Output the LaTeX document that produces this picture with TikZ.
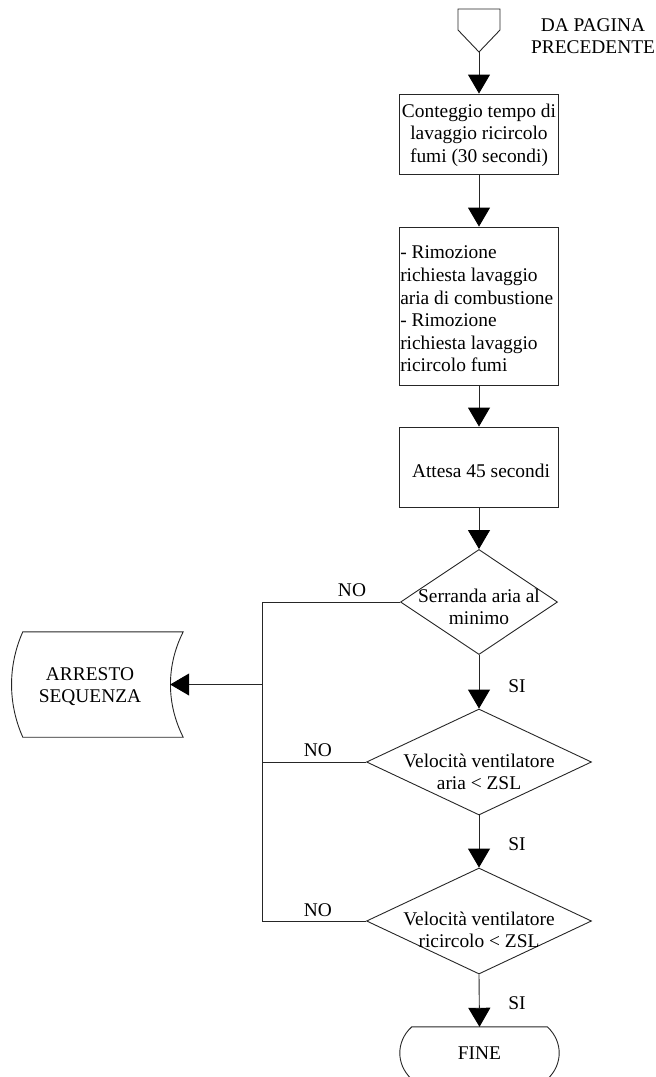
\documentclass[tikz,border=0pt]{standalone}
\usepackage{fontspec}
\setmainfont{Liberation Serif}
\usetikzlibrary{arrows.meta,shapes.geometric,calc}
\begin{document}
\begin{tikzpicture}[x=1pt,y=-1pt,
  ln/.style={line width=0.9pt, draw=black!85},
  arr/.style={ln, -{Triangle[width=22pt,length=19pt,fill=black,color=black]}},
  proc/.style={ln, rectangle, minimum width=159pt, inner sep=0pt},
  dec/.style={ln, diamond, inner sep=0pt},
  shell/.style={rectangle, draw=none, inner sep=0pt},
  txt/.style={font=\fontsize{19.4}{22.6}\selectfont, inner sep=0pt},
  lbl/.style={font=\fontsize{19.4}{22.6}\selectfont, inner sep=0pt}]
\useasboundingbox (0,0) rectangle (656,1077);

% off-page connector
\draw[ln] (458,9) -- (500,9) -- (500,30) -- (479,52) -- (458,30) -- cycle;
\coordinate (prev) at (479,52);
\node[txt, align=center] (prevt) at (593,36) {DA PAGINA\\PRECEDENTE};

% process boxes
\node[proc, minimum height=80pt] (b1) at (479,134) {};
\node[txt, align=center] (b1t) at ($(b1)+(0,1)$) {Conteggio tempo di\\lavaggio ricircolo\\fumi (30 secondi)};

\node[proc, minimum height=158pt] (b2) at (479,306) {};
\node[txt, align=left, anchor=west] (b2t) at ($(b2.west)+(1,3)$) {- Rimozione\\richiesta lavaggio\\aria di combustione\\- Rimozione\\richiesta lavaggio\\ricircolo fumi};

\node[proc, minimum height=80pt] (b3) at (479,467) {};
\node[txt] (b3t) at ($(b3)+(2,4)$) {Attesa 45 secondi};

% decisions
\node[dec, minimum width=157pt, minimum height=105pt] (d1) at (479,602) {};
\node[txt, align=center] (d1t) at ($(d1)+(0,5)$) {Serranda aria al\\minimo};

\node[dec, minimum width=225pt, minimum height=106pt] (d2) at (479,762) {};
\node[txt, align=center] (d2t) at ($(d2)+(0,10)$) {Velocità ventilatore\\aria < ZSL};

\node[dec, minimum width=225pt, minimum height=106pt] (d3) at (479,921) {};
\node[txt, align=center] (d3t) at ($(d3)+(0,9)$) {Velocità ventilatore\\ricircolo < ZSL};

% sequence stop
\node[shell, minimum width=158pt, minimum height=105pt] (stop) at (91,684.5) {};
\draw[ln] ($(stop.north west)+(11,0)$) -- ($(stop.north east)+(13,0)$)
  .. controls ($(stop.east)+(-4,-19)$) and ($(stop.east)+(-4,19)$) .. ($(stop.south east)+(13,0)$)
  -- ($(stop.south west)+(11,0)$)
  .. controls ($(stop.west)+(-4,19)$) and ($(stop.west)+(-4,-19)$) .. cycle;
\node[txt, align=center] (stopt) at ($(stop)+(-1,2)$) {ARRESTO\\SEQUENZA};

% end terminator
\node[shell, minimum width=159pt, minimum height=52pt] (fine) at (479.5,1053) {};
\draw[ln] ($(fine.north west)+(12,0)$) -- ($(fine.north east)+(-12,0)$)
  .. controls ($(fine.north east)+(-3,8)$) and ($(fine.east)+(0,-8)$) .. (fine.east)
  .. controls ($(fine.east)+(0,8)$) and ($(fine.south east)+(-3,-8)$) .. ($(fine.south east)+(-12,0)$)
  -- ($(fine.south west)+(12,0)$)
  .. controls ($(fine.south west)+(3,-8)$) and ($(fine.west)+(0,8)$) .. (fine.west)
  .. controls ($(fine.west)+(0,-8)$) and ($(fine.north west)+(3,8)$) .. cycle;
\node[txt] (finet) at (fine) {FINE};

% main flow
\draw[arr] (prev) -- (b1.north);
\draw[arr] (b1.south) -- (b2.north);
\draw[arr] (b2.south) -- (b3.north);
\draw[arr] (b3.south) -- (d1.north);
\draw[arr] (d1.south) -- (d2.north);
\draw[arr] (d2.south) -- (d3.north);
\draw[arr] (d3.south) -- (fine.north);

% NO branches to the stop
\coordinate (bus) at (262,0);
\draw[ln] (d1.west) -- (d1.west -| bus) -- (d3.west -| bus) -- (d3.west);
\draw[ln] (d2.west) -- (d2.west -| bus);
\draw[arr] (stop.east -| bus) -- (stop.east);

% branch labels
\node[lbl] (no1) at (352,590) {NO};
\node[lbl] (no2) at (318,750) {NO};
\node[lbl] (no3) at (318,910) {NO};
\node[lbl] (si1) at (517,686) {SI};
\node[lbl] (si2) at (517,844) {SI};
\node[lbl] (si3) at (517,1003) {SI};
\end{tikzpicture}
\end{document}
